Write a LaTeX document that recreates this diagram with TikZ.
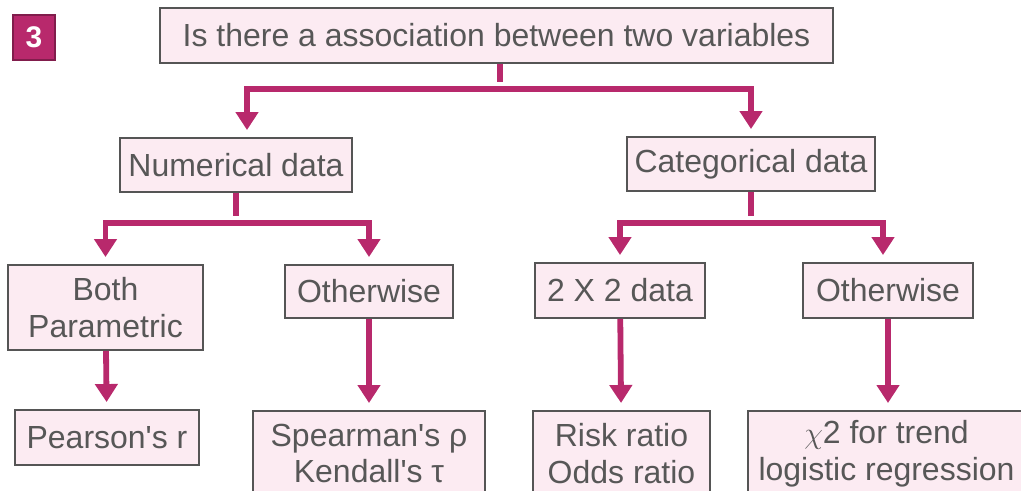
\documentclass[tikz,border=0pt]{standalone}
\usepackage{fontspec}
\setmainfont{Liberation Sans}
\usepackage{xcolor}
\usepackage{tikz}
\usetikzlibrary{positioning, arrows.meta, calc}

\definecolor{linkpink}{HTML}{B8296C}
\definecolor{boxpink}{HTML}{FCEBF2}
\definecolor{edgegray}{HTML}{555555}
\definecolor{txtgray}{HTML}{575757}

\begin{document}
\begin{tikzpicture}[
        box/.style={rectangle, draw=edgegray, line width=1.1pt, fill=boxpink,
            text=txtgray, align=center, inner sep=2pt,
            font=\fontsize{18.2}{21}\selectfont},
        conn/.style={draw=linkpink, line width=3.3pt,
            -{Triangle[width=0.44cm, length=0.36cm]}, shorten >=0.14cm},
        badge/.style={rectangle, draw=linkpink!70!black, line width=0.6pt,
            fill=linkpink, text=white, minimum width=0.84cm, minimum height=0.9cm,
            font=\bfseries\fontsize{17}{20}\selectfont}]
        \useasboundingbox (0,0) rectangle (20.42,-9.8);
        \clip (0,0) rectangle (20.42,-9.8);

        \node[badge] (num3) at (0.68,-0.75) {3};
        \node[box, minimum width=13.46cm, minimum height=1.1cm] (ask) at (9.93,-0.71)
            {Is there a association between two variables};

        \node[box, minimum width=4.64cm, minimum height=1.08cm] (numer) at (4.72,-3.30) {Numerical data};
        \node[box, minimum width=4.96cm, minimum height=1.08cm] (categ) at (15.02,-3.28) {Categorical data};

        \node[box, minimum width=3.9cm, minimum height=1.7cm] (both) at (2.11,-6.15) {Both\\Parametric};
        \node[box, minimum width=3.36cm, minimum height=1.06cm] (othA) at (7.38,-5.83) {Otherwise};
        \node[box, minimum width=3.4cm, minimum height=1.1cm] (twobytwo) at (12.4,-5.81) {2 X 2 data};
        \node[box, minimum width=3.4cm, minimum height=1.1cm] (othB) at (17.76,-5.81) {Otherwise};

        \node[box, minimum width=3.68cm, minimum height=1.1cm] (pearson) at (2.14,-8.75) {Pearson\textquotesingle s r};
        \node[box, anchor=north, minimum width=4.64cm, minimum height=1.7cm] (spearman) at (7.38,-8.2)
            {Spearman\textquotesingle s ρ\\Kendall\textquotesingle s τ};
        \node[box, anchor=north, minimum width=3.54cm, minimum height=1.7cm] (risk) at (12.43,-8.2)
            {Risk ratio\\Odds ratio};
        \node[box, anchor=north, minimum width=5.54cm, minimum height=1.7cm] (chisq) at (17.73,-8.2)
            {$\chi$2 for trend\\logistic regression};

        \coordinate (j0) at ($(ask.south)+(0.07,-0.5)$);
        \draw[conn, -] ($(ask.south)+(0.07,0)$) -- (j0);
        \draw[conn] (j0) -| ([xshift=0.22cm]numer.north);
        \draw[conn] (j0) -| (categ.north);

        \coordinate (j1) at ($(numer.south)+(0,-0.6)$);
        \draw[conn, -] (numer.south) -- (j1);
        \draw[conn] (j1) -| (both.north);
        \draw[conn] (j1) -| (othA.north);

        \coordinate (j2) at ($(categ.south)+(0,-0.62)$);
        \draw[conn, -] (categ.south) -- (j2);
        \draw[conn] (j2) -| (twobytwo.north);
        \draw[conn] (j2) -| ([xshift=-0.1cm]othB.north);

        \draw[conn] (both) -- (pearson);
        \draw[conn] (othA) -- (spearman);
        \draw[conn] (twobytwo) -- (risk);
        \draw[conn] (othB) -- ([xshift=0.03cm]chisq.north);
      \end{tikzpicture}
\end{document}
